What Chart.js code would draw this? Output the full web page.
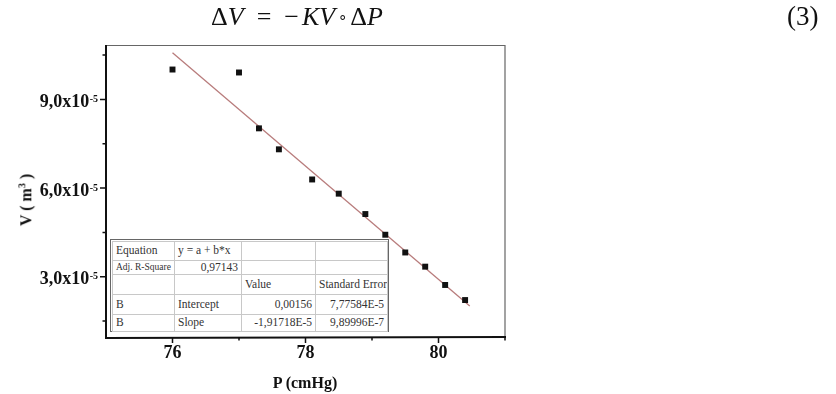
<!DOCTYPE html>
<html><head><meta charset="utf-8">
<script src="https://cdn.jsdelivr.net/npm/chart.js@4"></script>
<style>
html,body{margin:0;padding:0;background:#fff;}
#wrap{position:relative;width:836px;height:394px;overflow:hidden;font-family:"Liberation Serif",serif;color:#111;}
canvas{position:absolute;left:0;top:0;}
#eq{position:absolute;left:211px;top:2px;font-family:"Liberation Serif",serif;font-size:26px;white-space:nowrap;}
#eq i{font-style:italic;}
#eq .op{margin:0 13px;}
#eq .mn{margin-right:3px;}
#eq .ring{font-size:15px;position:relative;top:-3px;margin:0 3px;}
#num{position:absolute;left:787px;top:1px;font-size:27px;}
#ytitle{position:absolute;left:26px;top:200px;transform:translate(-50%,-50%) rotate(-90deg);font-weight:bold;font-size:16px;white-space:nowrap;}
#ytitle sup{font-size:10px;}
#xtitle{position:absolute;left:305px;top:383px;transform:translate(-50%,-50%);font-weight:bold;font-size:16px;white-space:nowrap;}
#tbl{position:absolute;left:110px;top:239px;width:279px;height:93px;border:1px solid #666;box-sizing:border-box;padding:1px;background:#fff;}
#tbl table{border-collapse:collapse;width:100%;height:100%;table-layout:fixed;font-size:11.5px;color:#333;}
#tbl td{border:1px solid #c8c8c8;padding:0 3px;white-space:nowrap;overflow:hidden;line-height:1;}
#tbl td.r{text-align:right;}
#tbl td.s{font-size:9.5px;}
</style>
</head><body>
<div id="wrap">
<canvas id="c" width="836" height="394"></canvas>
<div id="eq">Δ<i>V</i><span class="op">=</span><span class="mn">−</span><i>KV</i><span class="ring">∘</span>Δ<i>P</i></div>
<div id="num">(3)</div>
<div id="ytitle">V ( m<sup>3</sup> )</div>
<div id="xtitle">P (cmHg)</div>
<div id="tbl"><table id="t"></table></div>
</div>
<script>
// ---- data ----
const pressure = [76.0, 77.0, 77.3, 77.6, 78.1, 78.5, 78.9, 79.2, 79.5, 79.8, 80.1, 80.4];
const volume   = [10.01e-5, 9.91e-5, 8.02e-5, 7.31e-5, 6.29e-5, 5.81e-5, 5.12e-5, 4.42e-5, 3.82e-5, 3.34e-5, 2.72e-5, 2.21e-5];
const fitP = [76.0, 80.47];
const fitV = [10.58e-5, 2.01e-5];
const xMajor = [76, 78, 80];
const xMinor = [77, 79, 81];
const yMajor = [3e-5, 6e-5, 9e-5];
const yMajorLabels = ['3,0x10', '6,0x10', '9,0x10'];
const yExponent = '-5';
const yMinor = [1.5e-5, 4.5e-5, 7.5e-5, 10.5e-5];
const tableRows = [
  ['Equation', 'y = a + b*x', '', ''],
  ['Adj. R-Square', '0,97143', '', ''],
  ['', '', 'Value', 'Standard Error'],
  ['B', 'Intercept', '0,00156', '7,77584E-5'],
  ['B', 'Slope', '-1,91718E-5', '9,89996E-7']
];

// ---- table ----
const colW = [62, 67, 74, 72];
const rowH = [19, 14, 20, 20, 17];
const t = document.getElementById('t');
const cg = document.createElement('colgroup');
colW.forEach(w => { const c = document.createElement('col'); c.style.width = w + 'px'; cg.appendChild(c); });
t.appendChild(cg);
tableRows.forEach((row, ri) => {
  const tr = document.createElement('tr');
  tr.style.height = rowH[ri] + 'px';
  row.forEach((txt, ci) => {
    const td = document.createElement('td');
    td.textContent = txt;
    if (ri === 1 && ci === 0) td.className = 's';
    if ((ri === 1 && ci === 1) || (ri >= 3 && ci >= 2)) td.className = 'r';
    tr.appendChild(td);
  });
  t.appendChild(tr);
});

// ---- chart ----
const FONT = '"Liberation Serif", serif';
const framePlugin = {
  id: 'frame',
  afterDraw(chart) {
    const ctx = chart.ctx, a = chart.chartArea;
    const xs = chart.scales.x, ys = chart.scales.y;
    ctx.save();
    ctx.strokeStyle = '#666'; ctx.lineWidth = 1.2;
    ctx.beginPath();
    ctx.moveTo(a.left, a.top + 0.5); ctx.lineTo(a.right, a.top + 0.5);
    ctx.lineTo(a.right, a.bottom);
    ctx.stroke();
    ctx.strokeStyle = '#111'; ctx.lineWidth = 2;
    ctx.beginPath();
    ctx.moveTo(a.left, a.top); ctx.lineTo(a.left, a.bottom + 1); ctx.lineTo(a.right + 1, a.bottom);
    ctx.stroke();
    ctx.lineWidth = 1.5;
    ctx.beginPath();
    xMajor.forEach(v => { const p = xs.getPixelForValue(v); ctx.moveTo(p, a.bottom); ctx.lineTo(p, a.bottom + 6); });
    xMinor.forEach(v => { const p = xs.getPixelForValue(v); ctx.moveTo(p, a.bottom); ctx.lineTo(p, a.bottom + 3.5); });
    yMajor.forEach(v => { const p = ys.getPixelForValue(v); ctx.moveTo(a.left, p); ctx.lineTo(a.left - 6, p); });
    yMinor.forEach(v => { const p = ys.getPixelForValue(v); ctx.moveTo(a.left, p); ctx.lineTo(a.left - 3.5, p); });
    ctx.stroke();
    ctx.fillStyle = '#111';
    ctx.textAlign = 'right';
    ctx.textBaseline = 'alphabetic';
    yMajor.forEach((v, i) => {
      const p = ys.getPixelForValue(v);
      ctx.font = 'bold 10px ' + FONT;
      ctx.fillText(yExponent, 98, p + 2.5);
      const ew = ctx.measureText(yExponent).width;
      ctx.font = 'bold 18px ' + FONT;
      ctx.fillText(yMajorLabels[i], 98 - ew - 0.5, p + 7.5);
    });
    ctx.restore();
  }
};

new Chart(document.getElementById('c'), {
  type: 'scatter',
  data: {
    datasets: [
      {
        data: pressure.map((p, i) => ({ x: p, y: volume[i] })),
        pointStyle: 'rect', pointRadius: 4.2, backgroundColor: '#111', borderColor: '#111', borderWidth: 0,
        order: 1
      },
      {
        data: fitP.map((p, i) => ({ x: p, y: fitV[i] })),
        showLine: true, borderColor: '#b87c7c', borderWidth: 1.3, pointRadius: 0, order: 2
      }
    ]
  },
  options: {
    responsive: false, animation: false, devicePixelRatio: 1,
    layout: { padding: { left: 0, top: 45, right: 331, bottom: 0 } },
    plugins: { legend: { display: false }, tooltip: { enabled: false } },
    scales: {
      x: {
        type: 'linear', min: 75, max: 81,
        afterBuildTicks: s => { s.ticks = xMajor.map(v => ({ value: v })); },
        afterFit: s => { s.height = 57; },
        grid: { display: false, drawTicks: true, tickLength: 4 },
        border: { display: false },
        ticks: { color: '#111', padding: 2, maxRotation: 0, font: { family: FONT, size: 18, weight: 'bold' },
          callback: v => String(v) }
      },
      y: {
        type: 'linear', min: 0.96e-5, max: 10.84e-5,
        afterFit: s => { s.width = 106; },
        grid: { display: false },
        border: { display: false },
        ticks: { display: false }
      }
    }
  },
  plugins: [framePlugin]
});
</script>
</body></html>
